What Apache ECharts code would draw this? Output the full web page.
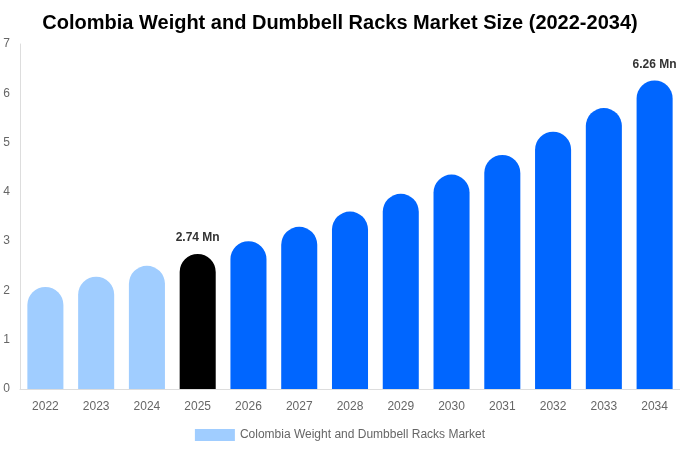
<!DOCTYPE html>
<html><head><meta charset="utf-8">
<script src="https://cdn.jsdelivr.net/npm/echarts@6/dist/echarts.min.js"></script>
<style>html,body{margin:0;padding:0;background:#fff}#c{width:680px;height:450px}</style>
</head><body><div id="c"></div>
<script>
var categories = ['2022','2023','2024','2025','2026','2027','2028','2029','2030','2031','2032','2033','2034'];
var values = [2.07, 2.28, 2.50, 2.74, 3.00, 3.29, 3.60, 3.96, 4.35, 4.75, 5.22, 5.70, 6.26];
var labelled = ['2025','2034'];
var seriesName = 'Colombia Weight and Dumbbell Racks Market';

function colorFor(c){
  var y = parseInt(c,10);
  if (y < 2025) return '#a0cdff';
  if (y === 2025) return '#000000';
  return '#0066ff';
}
var data = categories.map(function(c,i){
  var d = {value: values[i], itemStyle:{color: colorFor(c)}};
  if (labelled.indexOf(c) >= 0) {
    d.label = {show:true, position:'top', distance:10, formatter: function(p){return p.value.toFixed(2)+' Mn';},
      fontWeight:'bold', fontSize:12, color:'#333', fontFamily:'Liberation Sans, Arial, sans-serif'};
  }
  return d;
});
var chart = echarts.init(document.getElementById('c'));
chart.setOption({
  animation:false,
  textStyle:{fontFamily:'Liberation Sans, Arial, sans-serif'},
  title:{text:'Colombia Weight and Dumbbell Racks Market Size (2022-2034)', left:'center', top:8,
    textStyle:{fontSize:20, fontWeight:'bold', color:'#000', fontFamily:'Liberation Sans, Arial, sans-serif'}},
  legend:{bottom:4, left:'center', itemWidth:40, itemHeight:12, icon:'rect',
    textStyle:{color:'#666', fontSize:12}, data:[seriesName]},
  grid:{left:20, right:0, top:44, bottom:61, containLabel:false, outerBoundsMode:'none'},
  xAxis:{type:'category', data:categories,
    axisLine:{show:true, lineStyle:{color:'#ddd'}}, axisTick:{show:false},
    axisLabel:{color:'#666', fontSize:12, margin:12}},
  yAxis:{type:'value', min:0, max:7, interval:1,
    axisLine:{show:true, lineStyle:{color:'#ddd'}}, axisTick:{show:false},
    splitLine:{show:false},
    axisLabel:{color:'#666', fontSize:12, margin:10}},
  series:[{name:seriesName, type:'bar', data:data, barWidth:'71%',
    itemStyle:{color:'#a0cdff', borderRadius:[18,18,0,0]}}]
});
</script></body></html>
